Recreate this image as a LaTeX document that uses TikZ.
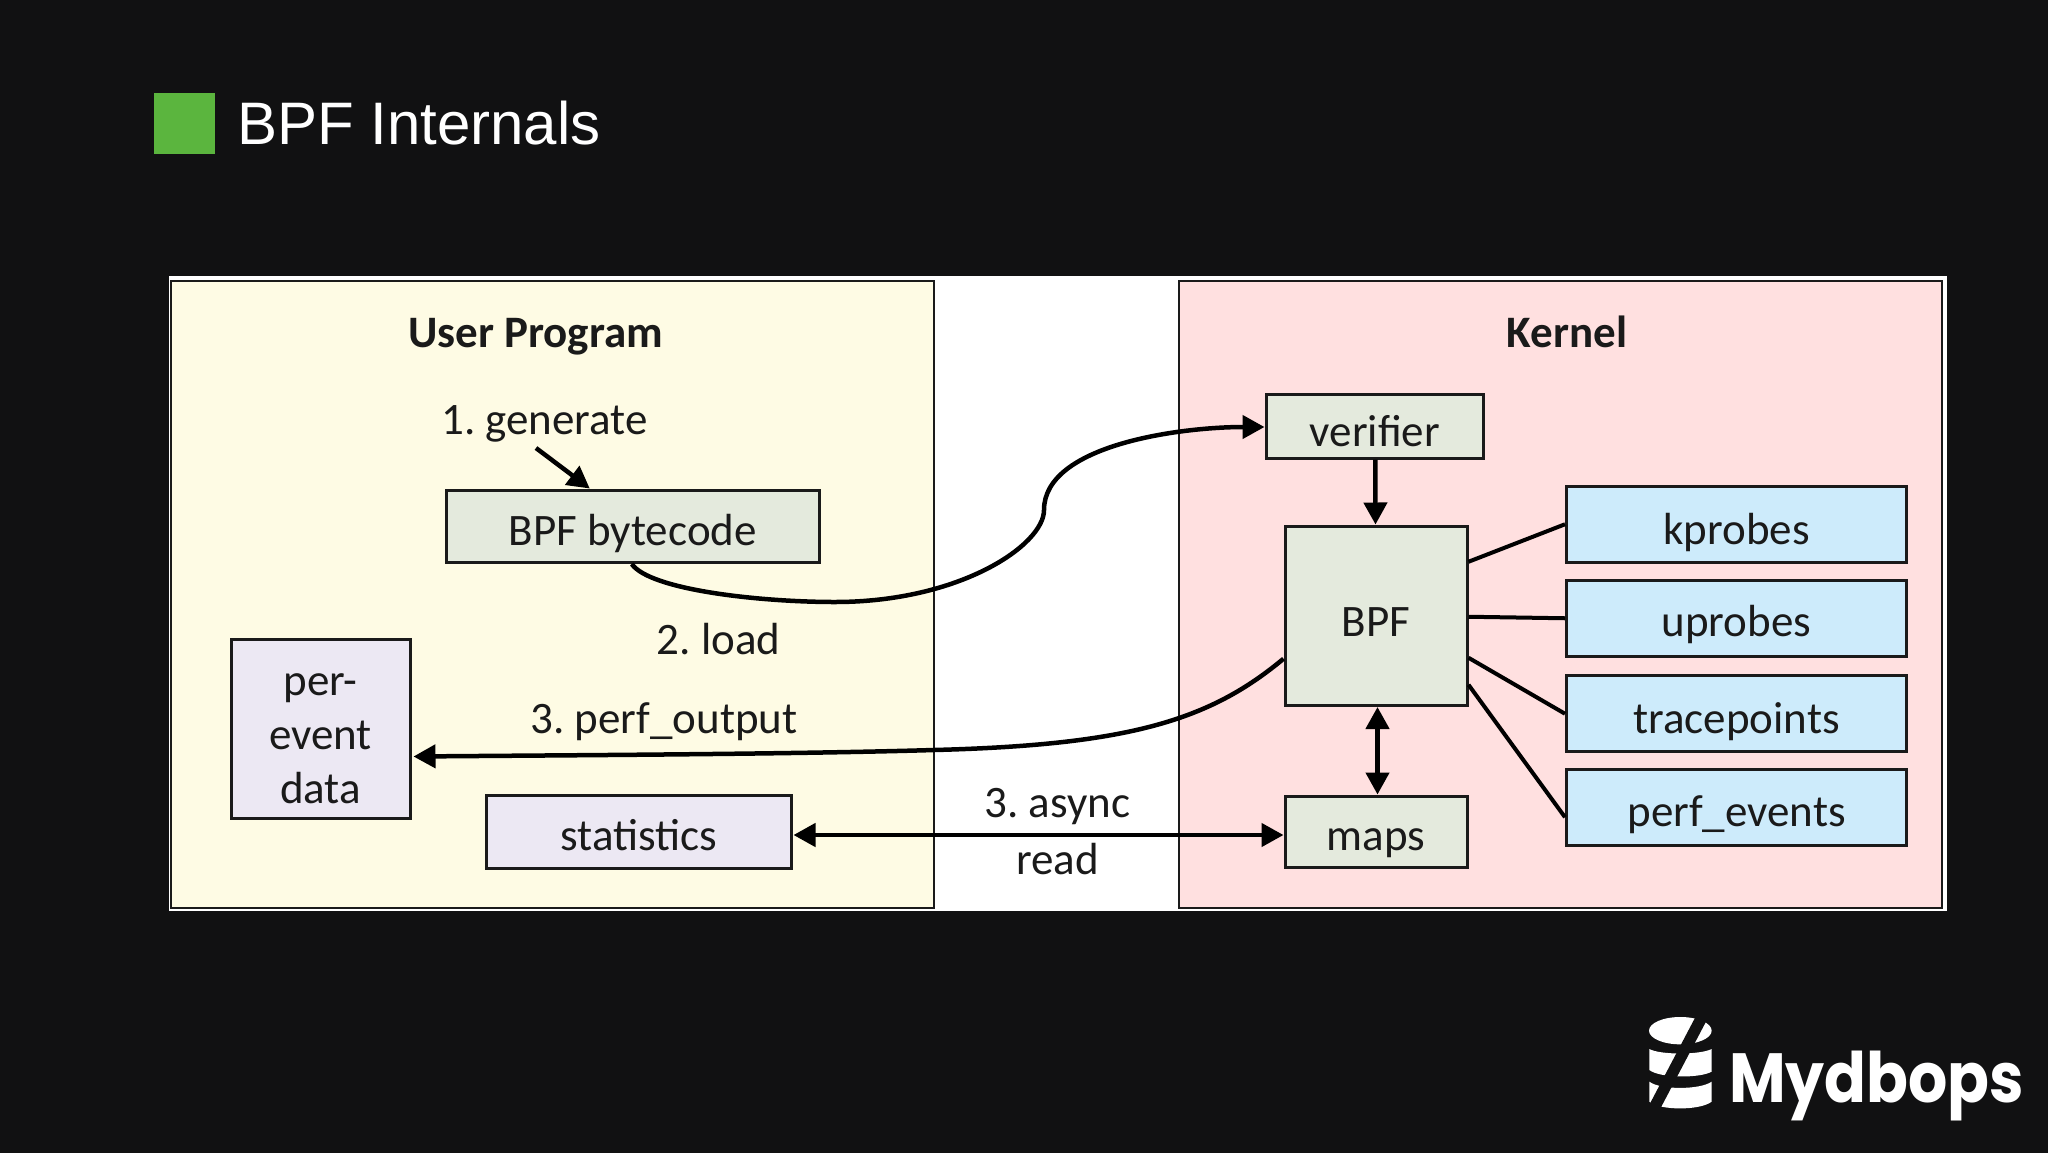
\documentclass[tikz,border=0pt]{standalone}
\usepackage{fontspec}
\usepackage{graphicx}
\usetikzlibrary{arrows.meta}
\setmainfont{Carlito}
\newfontfamily\titlefont{Liberation Sans}
\newfontfamily\logofont{Poppins}
\frenchspacing
\AtBeginDocument{\frenchspacing}
\definecolor{bgdark}{HTML}{111112}
\definecolor{titlegreen}{HTML}{5BB53E}
\definecolor{usercol}{HTML}{FEFBE4}
\definecolor{kernelcol}{HTML}{FFE0E0}
\definecolor{greenbox}{HTML}{E4EADD}
\definecolor{lavbox}{HTML}{ECE8F3}
\definecolor{bluebox}{HTML}{CDEBFB}
\definecolor{inkcol}{HTML}{1A1A1A}
\tikzset{
  x=1pt,y=-1pt,
  txt/.style={font=\fontsize{45}{54}\selectfont,text=inkcol,inner sep=0pt,anchor=base},
  headtxt/.style={font=\fontsize{45}{54}\selectfont\bfseries,text=inkcol,inner sep=0pt,anchor=base},
  panel/.style={draw=inkcol,line width=2.5pt,inner sep=0pt},
  boxst/.style={draw=inkcol,line width=3pt,inner sep=0pt,font=\fontsize{45}{54}\selectfont,text=inkcol},
  arrowline/.style={draw=black,line width=4.5pt},
  tipone/.style={-{Triangle[length=22pt,width=23pt]}},
  tiptwo/.style={{Triangle[length=22pt,width=23pt]}-{Triangle[length=22pt,width=23pt]}},
  plainline/.style={draw=black,line width=4pt},
}
% name, fill, x0, y0, x1, y1, baseline y, text
\newcommand{\bxnode}[8]{%
  \pgfmathsetmacro{\bw}{#5-#3-1}%
  \pgfmathsetmacro{\bh}{#6-#4-1}%
  \pgfmathsetmacro{\bx}{(#3+#5-1)/2}%
  \pgfmathsetmacro{\by}{(#4+#6-1)/2}%
  \pgfmathsetmacro{\bth}{\bh/2+(#7-\by)}%
  \pgfmathsetmacro{\btd}{\bh/2-(#7-\by)}%
  \node[boxst,fill=#2,minimum width=\bw pt,text height=\bth pt,text depth=\btd pt] (#1) at (\bx,\by) {#8};%
}
\begin{document}
\begin{tikzpicture}
\useasboundingbox (0,0) rectangle (2048,1152);
\fill[bgdark] (-6,-6) rectangle (2054,1158);
% title
\node[fill=titlegreen,minimum width=61pt,minimum height=61pt,inner sep=0pt] (mark) at (184.5,123) {};
\node[font=\titlefont\fontsize{60}{62}\selectfont,text=white,inner sep=0pt,anchor=base west] (title) at (237,144) {BPF Internals};
% panels
\node[fill=white,minimum width=1778pt,minimum height=635pt,inner sep=0pt] (sheet) at (1058,593) {};
\node[panel,fill=usercol,minimum width=763pt,minimum height=627pt] (user) at (552.5,594.5) {};
\node[panel,fill=kernelcol,minimum width=763pt,minimum height=627pt] (kernel) at (1560.5,594.5) {};
\node[headtxt] (userT) at (535.5,347) {User Program};
\node[headtxt] (kernelT) at (1567,347) {Kernel};
% boxes
\bxnode{bytecode}{greenbox}{446}{490}{820.5}{563.5}{545}{BPF bytecode}
\bxnode{statistics}{lavbox}{486.5}{795}{792}{869}{850}{statistics}
\bxnode{verifier}{greenbox}{1266}{394}{1484.5}{459}{446}{verifier}
\bxnode{bpf}{greenbox}{1285}{526}{1468}{706.5}{636}{BPF}
\bxnode{maps}{greenbox}{1285}{796}{1468}{868}{850}{maps}
\bxnode{kprobes}{bluebox}{1566.5}{486}{1907.5}{563.5}{544}{kprobes}
\bxnode{uprobes}{bluebox}{1566.5}{580}{1907.5}{657.5}{636}{uprobes}
\bxnode{tracepoints}{bluebox}{1566.5}{675}{1907.5}{752.5}{733}{tracepoints}
\bxnode{perfevents}{bluebox}{1566.5}{769}{1907.5}{846.5}{826.5}{perf\_events}
\node[boxst,fill=lavbox,minimum width=179pt,minimum height=179pt,align=center] (perevent) at (320.5,728.5) {\raisebox{-16.5pt}[0pt][0pt]{\parbox[c]{170pt}{\centering per-\\event\\data}}};
% labels
\node[txt] (gen) at (544.5,434) {1. generate};
\node[txt] (load) at (718.5,654) {2. load};
\node[txt] (perf) at (664,733) {3. perf\_output};
\node[txt] (async) at (1057.5,817) {3. async};
\node[txt] (read) at (1057.5,874) {read};
% connectors
\coordinate (genstart) at (536,448);
\draw[arrowline,tipone] (genstart) -- ([xshift=-43pt]bytecode.north);
\draw[arrowline,tipone] ([xshift=-1pt]bytecode.south)
  .. controls (650,590) and (760,602) .. (835,602)
  .. controls (960,602) and (1044,545) .. (1044,510)
  .. controls (1044,445) and (1180,427) .. ([yshift=-1pt]verifier.west);
\draw[arrowline,tipone] ([yshift=-43pt]bpf.west)
  .. controls (1210,720) and (1130,745) .. (934,750)
  .. controls (800,754) and (600,755) .. ([yshift=-28pt,xshift=2pt]perevent.east);
\draw[arrowline,tiptwo] ([yshift=-3.5pt,xshift=1pt]statistics.east) -- ([yshift=-3.5pt]maps.west);
\draw[arrowline,tipone] ([xshift=0.5pt]verifier.south) -- ([xshift=-0.5pt]bpf.north);
\draw[arrowline,tiptwo] ([xshift=1.5pt]bpf.south) -- ([xshift=1.5pt]maps.north);
\draw[plainline] ([yshift=54pt]bpf.east) -- (kprobes.west);
\draw[plainline] ([yshift=-1pt]bpf.east) -- (uprobes.west);
\draw[plainline] ([yshift=-42pt]bpf.east) -- ([yshift=-0.5pt]tracepoints.west);
\draw[plainline] ([yshift=-69pt]bpf.east) -- ([yshift=-10pt]perfevents.west);
% logo
\begin{scope}[shift={(1600,980)},x=0.3333pt,y=-0.3333pt]
  \fill[white] (241,152) ellipse [x radius=94,y radius=41];
  \fill[white] (148,207) .. controls (180,225) and (300,225) .. (335,207) -- (335,275) .. controls (300,295) and (180,295) .. (148,270) -- cycle;
  \fill[white] (148,305) .. controls (180,330) and (300,330) .. (335,305) -- (335,365) .. controls (300,392) and (180,392) .. (148,365) -- cycle;
  \draw[bgdark,line width=11.5pt] (320,84) -- (155,398);
\end{scope}
\node[inner sep=0pt,anchor=base west,text=white] (logo) at (1729,1102) {\resizebox*{295pt}{70pt}{\logofont\fontsize{72}{72}\selectfont\bfseries Mydbops}};
\end{tikzpicture}
\end{document}
